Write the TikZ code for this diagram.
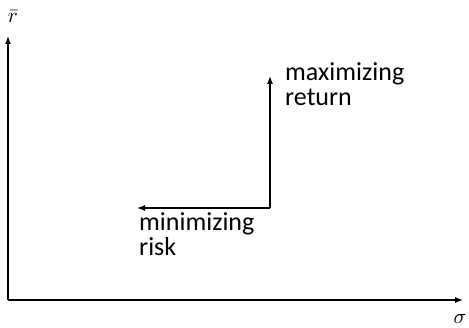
\documentclass[tikz,border=0pt]{standalone}
\usepackage{fontspec}
\setsansfont{Carlito}
\usetikzlibrary{arrows.meta}
\begin{document}
\begin{tikzpicture}[x=1pt,y=1pt,
  axis/.style={line width=1.2pt,-{Latex[length=8pt,width=6pt]}},
  move/.style={line width=1.2pt,-{Latex[length=8pt,width=6pt]}},
  lbl/.style={font=\sffamily\fontsize{26}{25}\selectfont,align=left,anchor=north west,inner sep=0pt},
  axlbl/.style={scale=2.1,inner sep=0pt}]
\useasboundingbox (0,0) rectangle (469,328);
% axes
\coordinate (O) at (8,28);
\coordinate (ytop) at (8,292);
\coordinate (xend) at (463,28);
\draw[axis] (O) -- (ytop);
\draw[axis] (O) -- (xend);
\node[axlbl] (rlab) at (13,311) {$\bar{r}$};
\node[axlbl] (slab) at (460,9) {$\sigma$};
% directions of improvement
\coordinate (C) at (270,120);
\coordinate (up) at (270,252);
\coordinate (left) at (137,120);
\draw[move] (C) -- (up);
\draw[move] (C) -- (left);
\node[lbl] (ret) at (285,266) {maximizing\\return};
\node[lbl] (risk) at (139,116) {minimizing\\risk};
\end{tikzpicture}
\end{document}
